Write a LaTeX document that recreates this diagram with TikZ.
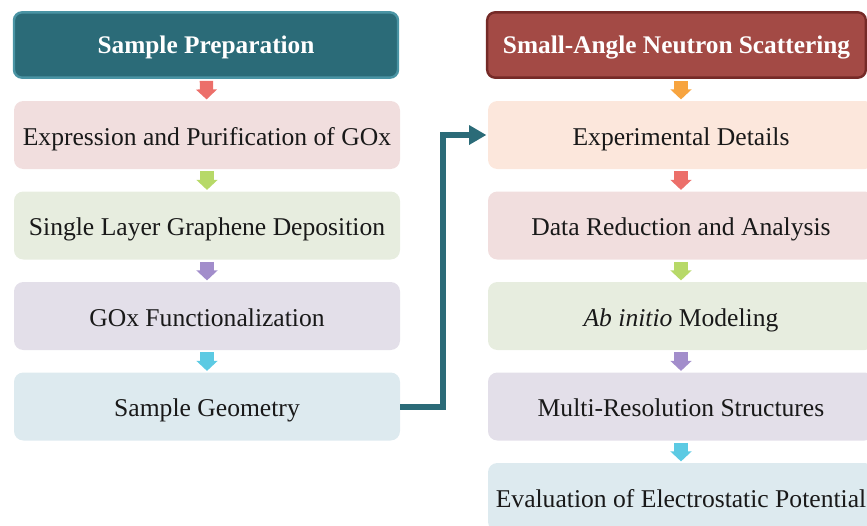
\documentclass[tikz,border=0pt]{standalone}
\usepackage{fontspec}
\setmainfont{Liberation Serif}
\usetikzlibrary{arrows.meta}

\definecolor{prepteal}{HTML}{2B6B78}
\definecolor{prepedge}{HTML}{4A94A4}
\definecolor{sansred}{HTML}{A34A45}
\definecolor{sansedge}{HTML}{752A27}
\definecolor{boxpink}{HTML}{F1DEDE}
\definecolor{boxgreen}{HTML}{E7EDDF}
\definecolor{boxlilac}{HTML}{E3DFE9}
\definecolor{boxblue}{HTML}{DDEAEF}
\definecolor{boxpeach}{HTML}{FCE7DC}
\definecolor{arrred}{HTML}{EC6F6A}
\definecolor{arrgreen}{HTML}{B7D968}
\definecolor{arrpurple}{HTML}{A28DCB}
\definecolor{arrcyan}{HTML}{5CCAE3}
\definecolor{arrorange}{HTML}{F7A43F}

\begin{document}
\begin{tikzpicture}[
    x=0.75pt, y=-0.75pt,
    header/.style={
        rectangle,
        rounded corners=6pt,
        line width=1.8pt,
        minimum width=288pt,
        minimum height=49pt,
        inner sep=2pt,
        text height=14pt,
        text depth=2pt,
        align=center,
        text=white,
        font=\fontsize{19}{22}\selectfont\bfseries
    },
    stepbox/.style={
        rectangle,
        rounded corners=7pt,
        minimum width=289.5pt,
        minimum height=51pt,
        inner sep=2pt,
        text height=16pt,
        text depth=1pt,
        align=center,
        text=black!90,
        font=\fontsize{19.2}{22}\selectfont
    },
    blockarrow/.style={
        line width=10pt,
        shorten <=1.5pt,
        shorten >=1pt,
        -{Triangle[width=15.5pt,length=7.5pt]}
    }
]

\clip (0,0) rectangle (867,525);

% left column
\node[header, fill=prepteal, draw=prepedge] (prep) at (206,45) {Sample Preparation};
\node[stepbox, fill=boxpink] (express) at (207,135) {Expression and Purification of GOx};
\node[stepbox, fill=boxgreen] (graphene) at (207,225.5) {Single Layer Graphene Deposition};
\node[stepbox, fill=boxlilac] (func) at (207,316) {GOx Functionalization};
\node[stepbox, fill=boxblue] (geom) at (207,406.5) {Sample Geometry};

% right column
\node[header, minimum width=284pt, fill=sansred, draw=sansedge] (sans) at (676.5,45) {Small-Angle Neutron Scattering};
\node[stepbox, fill=boxpeach] (expdet) at (681,135) {Experimental Details};
\node[stepbox, fill=boxpink] (reduct) at (681,225.5) {Data Reduction and Analysis};
\node[stepbox, fill=boxgreen] (abinit) at (681,316) {\textit{Ab initio} Modeling};
\node[stepbox, fill=boxlilac] (multires) at (681,406.5) {Multi-Resolution Structures};
\node[stepbox, fill=boxblue] (electro) at (681,497) {Evaluation of Electrostatic Potential};

\draw[blockarrow, arrred] (prep) -- (express);
\draw[blockarrow, arrgreen] (express) -- (graphene);
\draw[blockarrow, arrpurple] (graphene) -- (func);
\draw[blockarrow, arrcyan] (func) -- (geom);

\draw[blockarrow, arrorange] (sans.south -| expdet.north) -- (expdet);
\draw[blockarrow, arrred] (expdet) -- (reduct);
\draw[blockarrow, arrgreen] (reduct) -- (abinit);
\draw[blockarrow, arrpurple] (abinit) -- (multires);
\draw[blockarrow, arrcyan] (multires) -- (electro);

% link between the two columns
\draw[prepteal, line width=4.5pt, -{Triangle[width=14pt,length=13pt]}]
    (geom.east) -- ++(43,0) |- ([xshift=-1pt]expdet.west);

\end{tikzpicture}
\end{document}
